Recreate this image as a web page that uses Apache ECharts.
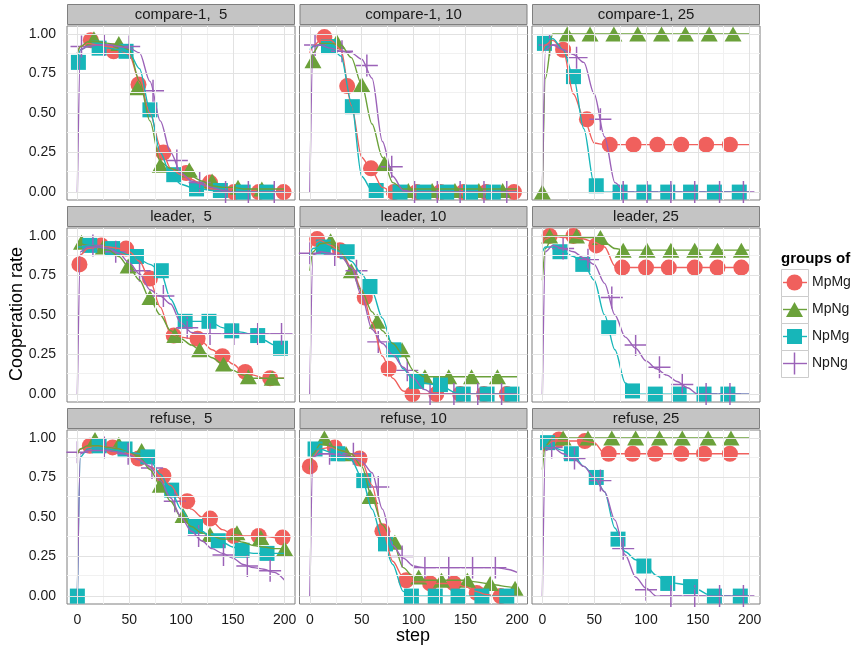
<!DOCTYPE html>
<html>
<head>
<meta charset="utf-8">
<script src="https://cdn.jsdelivr.net/npm/echarts@6.0.0/dist/echarts.min.js"></script>
<style>
  html, body { margin: 0; padding: 0; background: #fff; }
  #chart { width: 857px; height: 648px; }
</style>
</head>
<body>
<div id="chart"></div>
<script>
// groups and their look
const groups = ['MpMg', 'MpNg', 'NpMg', 'NpNg'];
const colors = ['#F0605D', '#6BA13A', '#17B6B9', '#9B62B8'];

// x positions (step) where the smoothed lines are sampled
const G = [0, 3, 10, 20, 30, 40, 50, 60, 70, 80, 90, 100, 110, 120, 130, 140, 150, 160, 170, 180, 190, 200];

// tick values
const X_MAJOR = [0, 50, 100, 150, 200];
const X_MINOR = [25, 75, 125, 175];
const Y_MAJOR = [0, 0.25, 0.5, 0.75, 1];
const Y_MINOR = [0.125, 0.375, 0.625, 0.875];

// ---- compare-1, 5 ----  (lines: y at G, order MpMg, MpNg, NpMg, NpNg)
const c1_5_lines = [
  [0.88,0.92,0.94,0.93,0.92,0.90,0.87,0.70,0.50,0.29,0.15,0.11,0.08,0.05,0.02,0.01,0,0,0,0,0,0],
  [0.88,0.92,0.95,0.95,0.94,0.93,0.90,0.70,0.45,0.19,0.15,0.13,0.10,0.07,0.04,0.03,0.03,0.02,0.02,0.02,0.02,0.02],
  [0.83,0.90,0.92,0.92,0.91,0.90,0.88,0.78,0.52,0.25,0.11,0.05,0.03,0.02,0.01,0.01,0,0,0,0,0,0],
  [0,0.90,0.92,0.93,0.93,0.92,0.91,0.88,0.70,0.45,0.25,0.12,0.07,0.05,0.03,0.01,0,0,0,0,0,0]
];
const c1_5_pts = [
  [[13,0.96],[35,0.89],[59,0.68],[83,0.25],[105,0.12],[128,0.06],[151,0],[175,0],[199,0]],
  [[16,0.97],[40,0.94],[58,0.66],[80,0.17],[108,0.14],[130,0.07],[155,0.03],[178,0.02]],
  [[1,0.82],[21,0.91],[47,0.89],[70,0.52],[93,0.11],[115,0.02],[138,0.01],[160,0],[183,0]],
  [[4,0.92],[26,0.93],[50,0.92],[73,0.64],[96,0.2],[118,0.06],[143,0],[165,0],[190,0]]
];

// ---- compare-1, 10 ----
const c1_10_lines = [
  [0.88,0.92,0.96,0.96,0.90,0.55,0.22,0.13,0.03,0,0,0,0,0,0,0,0,0,0,0,0,0],
  [0.80,0.88,0.94,0.94,0.93,0.85,0.68,0.43,0.22,0.06,0.02,0.02,0.02,0.02,0.02,0.02,0.02,0.02,0.02,0.02,0.02,0.02],
  [0.90,0.92,0.93,0.92,0.86,0.57,0.10,0.01,0,0,0,0,0,0,0,0,0,0,0,0,0,0],
  [0,0.92,0.93,0.91,0.89,0.88,0.84,0.72,0.32,0.10,0.01,0,0,0,0,0,0,0,0,0,0,0]
];
const c1_10_pts = [
  [[14,0.98],[36,0.67],[59,0.15],[81,0],[103,0],[126,0],[148,0],[170,0],[197,0]],
  [[3,0.83],[26,0.95],[50,0.68],[72,0.18],[95,0.01],[118,0.01],[140,0.01],[163,0.01],[186,0.01]],
  [[18,0.92],[41,0.54],[64,0.01],[87,0],[110,0],[132,0],[155,0],[177,0]],
  [[5,0.93],[31,0.89],[55,0.8],[79,0.16],[101,0],[123,0],[145,0],[168,0],[190,0]]
];

// ---- compare-1, 25 ----
const c1_25_lines = [
  [0.88,0.93,0.96,0.90,0.62,0.47,0.31,0.30,0.30,0.30,0.30,0.30,0.30,0.30,0.30,0.30,0.30,0.30,0.30,0.30,0.30,0.30],
  [0,0.72,1,1,1,1,1,1,1,1,1,1,1,1,1,1,1,1,1,1,1,1],
  [0.93,0.96,0.97,0.90,0.73,0.40,0.05,0,0,0,0,0,0,0,0,0,0,0,0,0,0,0],
  [0,0.90,0.93,0.90,0.87,0.82,0.62,0.35,0.06,0,0,0,0,0,0,0,0,0,0,0,0,0]
];
const c1_25_pts = [
  [[20,0.9],[43,0.46],[65,0.3],[88,0.3],[111,0.3],[134,0.3],[158,0.3],[181,0.3]],
  [[0,0],[24,1],[46,1],[69,1],[92,1],[115,1],[138,1],[161,1],[184,1]],
  [[2,0.94],[30,0.73],[52,0.04],[75,0],[98,0],[121,0],[143,0],[166,0],[190,0]],
  [[7,0.93],[33,0.85],[56,0.46],[78,0],[101,0],[124,0],[147,0],[171,0],[194,0]]
];

// ---- leader, 5 ----
const ld_5_lines = [
  [0.82,0.88,0.92,0.93,0.93,0.92,0.90,0.84,0.72,0.55,0.38,0.36,0.35,0.33,0.28,0.24,0.19,0.14,0.12,0.10,0.10,0.10],
  [0.95,0.95,0.94,0.93,0.91,0.87,0.80,0.72,0.60,0.50,0.40,0.35,0.31,0.27,0.23,0.19,0.15,0.12,0.10,0.10,0.10,0.10],
  [0.93,0.93,0.94,0.93,0.92,0.90,0.88,0.85,0.82,0.78,0.60,0.48,0.46,0.46,0.45,0.42,0.40,0.39,0.37,0.34,0.31,0.29],
  [0,0.90,0.93,0.93,0.92,0.89,0.83,0.76,0.66,0.62,0.57,0.45,0.39,0.38,0.38,0.38,0.38,0.38,0.38,0.38,0.38,0.38]
];
const ld_5_pts = [
  [[2,0.82],[23,0.94],[47,0.92],[70,0.73],[93,0.37],[116,0.35],[140,0.24],[162,0.14],[186,0.1]],
  [[4,0.96],[25,0.93],[49,0.81],[70,0.61],[94,0.37],[118,0.28],[141,0.19],[165,0.11],[188,0.1]],
  [[12,0.94],[34,0.92],[57,0.87],[81,0.78],[104,0.46],[127,0.46],[149,0.4],[174,0.37],[196,0.29]],
  [[15,0.94],[37,0.9],[60,0.78],[83,0.62],[106,0.42],[128,0.38],[151,0.38],[174,0.38],[197,0.38]]
];

// ---- leader, 10 ----
const ld_10_lines = [
  [0.90,0.95,0.97,0.94,0.90,0.80,0.66,0.45,0.24,0.10,0.02,0,0,0,0,0,0,0,0,0,0,0],
  [0.78,0.90,0.95,0.96,0.90,0.78,0.65,0.52,0.40,0.32,0.25,0.15,0.11,0.11,0.11,0.11,0.11,0.11,0.11,0.11,0.11,0.11],
  [0.88,0.92,0.93,0.92,0.90,0.84,0.76,0.65,0.48,0.30,0.16,0.09,0.07,0.06,0.04,0.01,0,0,0,0,0,0],
  [0,0.88,0.90,0.89,0.87,0.80,0.62,0.41,0.32,0.25,0.17,0.10,0.03,0,0,0,0,0,0,0,0,0]
];
const ld_10_pts = [
  [[7,0.98],[29,0.91],[53,0.61],[76,0.16],[99,0],[122,0],[145,0],[168,0],[190,0]],
  [[20,0.97],[40,0.78],[65,0.46],[89,0.28],[111,0.11],[134,0.11],[156,0.11],[181,0.11]],
  [[13,0.93],[36,0.9],[58,0.68],[81,0.28],[103,0.08],[126,0.06],[148,0],[171,0],[195,0]],
  [[0,0.89],[24,0.88],[45,0.78],[66,0.33],[94,0.15],[116,0],[139,0],[162,0],[185,0]]
];

// ---- leader, 25 ----
const ld_25_lines = [
  [0.95,0.98,1,0.99,0.99,0.98,0.96,0.93,0.81,0.80,0.80,0.80,0.80,0.80,0.80,0.80,0.80,0.80,0.80,0.80,0.80,0.80],
  [0.72,0.92,1,1,1,0.99,0.99,0.96,0.92,0.91,0.91,0.91,0.91,0.91,0.91,0.91,0.91,0.91,0.91,0.91,0.91,0.91],
  [0.90,0.93,0.93,0.90,0.87,0.82,0.72,0.50,0.28,0.07,0,0,0,0,0,0,0,0,0,0,0,0],
  [0,0.90,0.94,0.92,0.90,0.86,0.82,0.70,0.50,0.36,0.29,0.21,0.16,0.12,0.08,0.04,0,0,0,0,0,0]
];
const ld_25_pts = [
  [[7,1],[30,1],[52,0.94],[77,0.8],[100,0.8],[122,0.8],[147,0.8],[169,0.8],[192,0.8]],
  [[7,1],[33,1],[56,0.99],[78,0.91],[101,0.91],[124,0.91],[147,0.91],[169,0.91],[192,0.91]],
  [[17,0.9],[39,0.82],[64,0.42],[87,0.02],[109,0],[132,0],[156,0],[179,0]],
  [[20,0.92],[44,0.85],[67,0.61],[90,0.31],[113,0.17],[135,0.06],[158,0],[181,0]]
];

// ---- refuse, 5 ----
const rf_5_lines = [
  [0.90,0.93,0.95,0.95,0.94,0.93,0.90,0.86,0.82,0.77,0.70,0.61,0.55,0.50,0.47,0.42,0.39,0.38,0.38,0.38,0.37,0.36],
  [0.90,0.93,0.95,0.95,0.94,0.93,0.91,0.88,0.80,0.70,0.60,0.50,0.44,0.40,0.38,0.36,0.36,0.34,0.32,0.31,0.30,0.30],
  [0,0.88,0.93,0.94,0.93,0.92,0.91,0.90,0.86,0.77,0.67,0.55,0.46,0.41,0.37,0.34,0.31,0.28,0.27,0.27,0.27,0.27],
  [0,0.90,0.92,0.92,0.92,0.91,0.89,0.86,0.82,0.73,0.62,0.50,0.41,0.35,0.30,0.27,0.24,0.20,0.18,0.17,0.15,0.10]
];
const rf_5_pts = [
  [[12,0.95],[34,0.94],[59,0.87],[83,0.76],[106,0.6],[128,0.49],[151,0.38],[175,0.38],[198,0.37]],
  [[17,0.99],[40,0.96],[62,0.92],[80,0.7],[102,0.51],[128,0.39],[154,0.4],[177,0.37],[200,0.3]],
  [[0,0],[21,0.95],[46,0.93],[68,0.88],[91,0.67],[114,0.44],[136,0.35],[159,0.29],[183,0.27]],
  [[0,0.91],[26,0.94],[49,0.9],[72,0.81],[94,0.6],[117,0.38],[141,0.26],[164,0.19],[186,0.16]]
];

// ---- refuse, 10 ----
const rf_10_lines = [
  [0.82,0.88,0.93,0.94,0.92,0.90,0.85,0.70,0.42,0.22,0.12,0.09,0.09,0.08,0.08,0.08,0.06,0.03,0.01,0,0,0],
  [0.80,0.90,0.96,0.95,0.92,0.90,0.82,0.62,0.45,0.35,0.18,0.12,0.10,0.10,0.10,0.10,0.10,0.09,0.08,0.07,0.06,0.05],
  [0.90,0.93,0.93,0.91,0.89,0.86,0.75,0.55,0.36,0.20,0.03,0,0,0,0,0,0,0,0,0,0,0],
  [0,0.88,0.90,0.90,0.89,0.88,0.85,0.78,0.55,0.32,0.24,0.19,0.18,0.18,0.18,0.18,0.18,0.18,0.18,0.18,0.17,0.15]
];
const rf_10_pts = [
  [[0,0.82],[24,0.94],[48,0.87],[70,0.41],[93,0.1],[116,0.08],[139,0.08],[161,0.02],[184,0]],
  [[14,1],[35,0.9],[58,0.63],[82,0.34],[105,0.12],[127,0.1],[152,0.1],[174,0.08],[198,0.05]],
  [[5,0.93],[27,0.9],[52,0.73],[73,0.33],[98,0],[121,0],[143,0],[166,0],[190,0]],
  [[19,0.9],[42,0.9],[66,0.69],[89,0.25],[111,0.18],[134,0.18],[157,0.18],[179,0.18]]
];

// ---- refuse, 25 ----
const rf_25_lines = [
  [0.90,0.95,0.98,0.98,0.98,0.98,0.97,0.90,0.90,0.90,0.90,0.90,0.90,0.90,0.90,0.90,0.90,0.90,0.90,0.90,0.90,0.90],
  [0.80,0.95,1,1,1,1,1,1,1,1,1,1,1,1,1,1,1,1,1,1,1,1],
  [0.93,0.95,0.94,0.92,0.89,0.82,0.76,0.66,0.43,0.28,0.23,0.19,0.13,0.09,0.08,0.07,0.04,0.01,0,0,0,0],
  [0,0.92,0.94,0.90,0.87,0.82,0.75,0.66,0.48,0.26,0.12,0.05,0,0,0,0,0,0,0,0,0,0]
];
const rf_25_pts = [
  [[16,0.99],[41,0.98],[64,0.9],[87,0.9],[109,0.9],[134,0.9],[156,0.9],[181,0.9]],
  [[20,1],[44,1],[67,1],[90,1],[113,1],[135,1],[160,1],[182,1]],
  [[5,0.97],[28,0.9],[52,0.75],[73,0.36],[98,0.19],[121,0.08],[143,0.06],[166,0],[191,0]],
  [[9,0.94],[31,0.87],[56,0.73],[78,0.3],[100,0.04],[124,0],[147,0],[171,0],[194,0]]
];

const panels = [
  { label: 'compare-1,  5', lines: c1_5_lines,  pts: c1_5_pts },
  { label: 'compare-1, 10', lines: c1_10_lines, pts: c1_10_pts },
  { label: 'compare-1, 25', lines: c1_25_lines, pts: c1_25_pts },
  { label: 'leader,  5',    lines: ld_5_lines,  pts: ld_5_pts },
  { label: 'leader, 10',    lines: ld_10_lines, pts: ld_10_pts },
  { label: 'leader, 25',    lines: ld_25_lines, pts: ld_25_pts },
  { label: 'refuse,  5',    lines: rf_5_lines,  pts: rf_5_pts },
  { label: 'refuse, 10',    lines: rf_10_lines, pts: rf_10_pts },
  { label: 'refuse, 25',    lines: rf_25_lines, pts: rf_25_pts }
];

const FONT = '"Liberation Sans", Arial, Helvetica, sans-serif';
const PLUS = 'path://M0,11.2L11.2,11.2L11.2,0L12.8,0L12.8,11.2L24,11.2L24,12.8L12.8,12.8L12.8,24L11.2,24L11.2,12.8L0,12.8Z';
const symbols = ['circle', 'triangle', 'rect', PLUS];
const symbolSizes = [16, [17, 15], 15, 22];

// panel layout (px)
const colLeft = [67, 299.5, 532];
const rowTop = [26, 228, 430];
const PW = 228, PH = 174;

const chart = echarts.init(document.getElementById('chart'));

const grids = [], xAxes = [], yAxes = [], series = [], graphics = [];

panels.forEach((p, i) => {
  const r = Math.floor(i / 3), c = i % 3;
  const left = colLeft[c], top = rowTop[r];
  grids.push({
    left: left, top: top, width: PW, height: PH,
    show: true, backgroundColor: '#fff', borderColor: '#7f7f7f', borderWidth: 1,
    containLabel: false, outerBoundsMode: 'none'
  });
  const bottomRow = r === 2, leftCol = c === 0;
  xAxes.push({
    gridIndex: i, type: 'value', min: -10, max: 210,
    axisLine: { show: false },
    splitLine: { show: false },
    axisTick: { show: bottomRow, customValues: X_MAJOR, length: 5, lineStyle: { color: '#333', width: 1 } },
    axisLabel: { show: bottomRow, customValues: X_MAJOR, color: '#1a1a1a', fontSize: 14, fontFamily: FONT, margin: 9 }
  });
  yAxes.push({
    gridIndex: i, type: 'value', min: -0.05, max: 1.05,
    axisLine: { show: false },
    splitLine: { show: false },
    axisTick: { show: leftCol, customValues: Y_MAJOR, length: 5, lineStyle: { color: '#333', width: 1 } },
    axisLabel: { show: leftCol, customValues: Y_MAJOR, color: '#1a1a1a', fontSize: 14, fontFamily: FONT, margin: 11,
      formatter: v => v.toFixed(2) }
  });

  // background grid lines, drawn through the axes as mark lines
  const ml = [];
  X_MINOR.forEach(v => ml.push({ xAxis: v, lineStyle: { color: '#f1f1f1', width: 1, type: 'solid' } }));
  Y_MINOR.forEach(v => ml.push({ yAxis: v, lineStyle: { color: '#f1f1f1', width: 1, type: 'solid' } }));
  X_MAJOR.forEach(v => ml.push({ xAxis: v, lineStyle: { color: '#e2e2e2', width: 1, type: 'solid' } }));
  Y_MAJOR.forEach(v => ml.push({ yAxis: v, lineStyle: { color: '#e2e2e2', width: 1, type: 'solid' } }));
  series.push({
    type: 'line', xAxisIndex: i, yAxisIndex: i, data: [], z: 1, silent: true,
    markLine: { silent: true, symbol: ['none', 'none'], label: { show: false }, animation: false, data: ml }
  });

  // points
  groups.forEach((g, k) => {
    series.push({
      name: g, type: 'scatter', xAxisIndex: i, yAxisIndex: i,
      data: p.pts[k], symbol: symbols[k], symbolSize: symbolSizes[k],
      itemStyle: { color: colors[k], opacity: 1 }, z: 2, silent: true
    });
  });
  // smoothed lines, drawn over the points
  groups.forEach((g, k) => {
    series.push({
      name: g, type: 'line', xAxisIndex: i, yAxisIndex: i,
      data: G.map((x, j) => [x, p.lines[k][j]]),
      smooth: 0.3, smoothMonotone: 'x', showSymbol: false, symbol: 'none',
      lineStyle: { color: colors[k], width: 1.4 }, z: 3, silent: true
    });
  });

  // facet strip
  graphics.push({
    type: 'rect', shape: { x: left + 0.5, y: top - 21.5, width: PW - 1, height: 20 },
    style: { fill: '#c4c4c4', stroke: '#7f7f7f', lineWidth: 1 }, silent: true
  });
  graphics.push({
    type: 'text', x: left + PW / 2, y: top - 11,
    style: { text: p.label, textAlign: 'center', textVerticalAlign: 'middle', font: '15px ' + FONT, fill: '#1a1a1a' },
    silent: true
  });
});

// axis titles
graphics.push({
  type: 'text', x: 413, y: 636,
  style: { text: 'step', textAlign: 'center', textVerticalAlign: 'middle', font: '18px ' + FONT, fill: '#000' }
});
graphics.push({
  type: 'text', x: 17, y: 314, rotation: Math.PI / 2,
  style: { text: 'Cooperation rate', textAlign: 'center', textVerticalAlign: 'middle', font: '18px ' + FONT, fill: '#000' }
});

// legend
graphics.push({
  type: 'text', x: 781, y: 259,
  style: { text: 'groups of', textAlign: 'left', textVerticalAlign: 'middle', font: 'bold 15px ' + FONT, fill: '#000' }
});
const KX = 781, KW = 27, KTOP = 269;
groups.forEach((g, k) => {
  const y0 = KTOP + k * 27, cy = y0 + 13.5, cx = KX + KW / 2;
  graphics.push({ type: 'rect', shape: { x: KX + 0.5, y: y0 + 0.5, width: KW, height: 27 },
    style: { fill: '#fff', stroke: '#cccccc', lineWidth: 1 } });
  graphics.push({ type: 'line', shape: { x1: KX + 2, y1: cy, x2: KX + KW - 1, y2: cy },
    style: { stroke: colors[k], lineWidth: 1.4 } });
  if (k === 0) graphics.push({ type: 'circle', shape: { cx: cx, cy: cy, r: 8 }, style: { fill: colors[k] } });
  if (k === 1) graphics.push({ type: 'polygon', shape: { points: [[cx, cy - 7.5], [cx + 8.5, cy + 7.5], [cx - 8.5, cy + 7.5]] }, style: { fill: colors[k] } });
  if (k === 2) graphics.push({ type: 'rect', shape: { x: cx - 7.5, y: cy - 7.5, width: 15, height: 15 }, style: { fill: colors[k] } });
  if (k === 3) {
    graphics.push({ type: 'line', shape: { x1: cx, y1: cy - 11, x2: cx, y2: cy + 11 }, style: { stroke: colors[k], lineWidth: 1.5 } });
  }
  graphics.push({
    type: 'text', x: 812, y: cy,
    style: { text: g, textAlign: 'left', textVerticalAlign: 'middle', font: '14px ' + FONT, fill: '#1a1a1a' }
  });
});

chart.setOption({
  animation: false,
  backgroundColor: '#fff',
  grid: grids,
  xAxis: xAxes,
  yAxis: yAxes,
  series: series,
  graphic: { elements: graphics }
});
</script>
</body>
</html>
